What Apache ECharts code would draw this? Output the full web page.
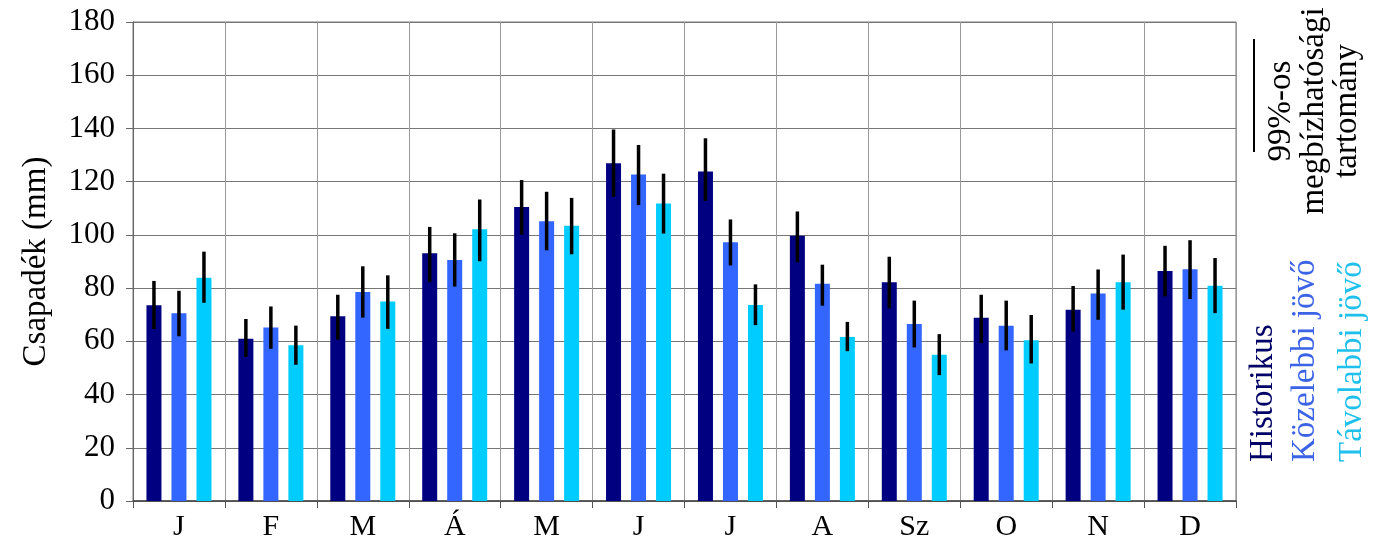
<!DOCTYPE html>
<html>
<head>
<meta charset="utf-8">
<script src="https://cdn.jsdelivr.net/npm/echarts@6/dist/echarts.min.js"></script>
<style>
  html, body { margin: 0; padding: 0; background: #fff; }
  #chart { width: 1380px; height: 547px; }
</style>
</head>
<body>
<div id="chart"></div>
<script>
// Monthly precipitation (mm): historical, near future, far future, with 99% confidence ranges
const months = ['J', 'F', 'M', 'Á', 'M', 'J', 'J', 'A', 'Sz', 'O', 'N', 'D'];
const yTicks = [0, 20, 40, 60, 80, 100, 120, 140, 160, 180];

const historikus    = [73.6, 61.0, 69.4, 93.1, 110.5, 126.9, 123.8, 99.7, 82.2, 68.9, 71.9, 86.4];
const historikusLo  = [64.6, 54.1, 60.6, 82.2, 100.1, 114.3, 112.7, 89.7, 72.4, 59.3, 63.7, 76.9];
const historikusHi  = [82.7, 68.4, 77.5, 103.0, 120.6, 139.6, 136.3, 108.8, 91.8, 77.5, 80.8, 95.9];

const kozelebbi     = [70.6, 65.2, 78.5, 90.6, 105.1, 122.7, 97.2, 81.6, 66.5, 65.9, 78.0, 87.1];
const kozelebbiLo   = [61.9, 57.2, 68.9, 80.6, 94.2, 111.2, 88.5, 73.4, 57.7, 56.6, 68.1, 75.9];
const kozelebbiHi   = [79.0, 73.1, 88.2, 100.6, 116.2, 133.8, 105.8, 88.8, 75.3, 75.3, 87.0, 98.0];

const tavolabbi     = [83.9, 58.5, 75.0, 102.1, 103.4, 111.8, 73.7, 61.6, 55.0, 60.4, 82.2, 80.9];
const tavolabbiLo   = [74.5, 51.2, 64.7, 90.1, 92.7, 100.5, 66.1, 56.3, 47.3, 51.7, 71.9, 70.6];
const tavolabbiHi   = [93.7, 65.9, 84.8, 113.3, 113.9, 123.0, 81.4, 67.3, 62.7, 69.9, 92.6, 91.3];

const seriesNames = ['Historikus', 'Közelebbi jövő', 'Távolabbi jövő'];
const colors = ['#000080', '#3366FF', '#00CCFF'];
const legendColors = ['#000066', '#3B63E6', '#1FC0EC'];

const FONT = "'Liberation Serif', 'Times New Roman', serif";
const BAR_W = 15;
const BAR_GAP_PX = 10;

const chart = echarts.init(document.getElementById('chart'));

function errorSeries(lo, hi, idx) {
  const offset = (idx - 1) * (BAR_W + BAR_GAP_PX);
  return {
    type: 'custom',
    silent: true,
    z: 5,
    data: lo.map((v, i) => [i, v, hi[i]]),
    encode: { x: 0, y: [1, 2] },
    renderItem: function (params, api) {
      const a = api.coord([api.value(0), api.value(1)]);
      const b = api.coord([api.value(0), api.value(2)]);
      return {
        type: 'line',
        shape: { x1: a[0] + offset, y1: a[1], x2: b[0] + offset, y2: b[1] },
        style: { stroke: '#000', lineWidth: 3.5 }
      };
    }
  };
}

const barData = [historikus, kozelebbi, tavolabbi];

const option = {
  animation: false,
  backgroundColor: '#fff',
  grid: {
    left: 133, right: 144, top: 22, bottom: 46,
    show: true, borderColor: '#777', borderWidth: 1
  },
  xAxis: {
    type: 'category',
    data: months,
    boundaryGap: true,
    axisLine: { show: true, lineStyle: { color: '#444', width: 1.5 } },
    axisTick: { show: true, inside: false, length: 7, lineStyle: { color: '#555' } },
    splitLine: { show: true, lineStyle: { color: '#999', width: 1 } },
    axisLabel: { color: '#000', fontFamily: FONT, fontSize: 30, margin: 11 }
  },
  yAxis: {
    type: 'value',
    min: yTicks[0],
    max: yTicks[yTicks.length - 1],
    interval: yTicks[1] - yTicks[0],
    name: 'Csapadék (mm)',
    nameLocation: 'middle',
    nameGap: 80,
    nameTextStyle: { color: '#000', fontFamily: FONT, fontSize: 33 },
    axisLine: { show: true, lineStyle: { color: '#666', width: 1 } },
    axisTick: { show: true, inside: false, length: 7, lineStyle: { color: '#666' } },
    splitLine: { show: true, lineStyle: { color: '#777', width: 1 } },
    axisLabel: { color: '#000', fontFamily: FONT, fontSize: 31, margin: 18 }
  },
  series: [
    ...barData.map((d, i) => ({
      name: seriesNames[i],
      type: 'bar',
      data: d,
      barWidth: BAR_W,
      barGap: (BAR_GAP_PX / BAR_W * 100) + '%',
      itemStyle: { color: colors[i] },
      z: 2
    })),
    errorSeries(historikusLo, historikusHi, 0),
    errorSeries(kozelebbiLo, kozelebbiHi, 1),
    errorSeries(tavolabbiLo, tavolabbiHi, 2)
  ],
  graphic: [
    // confidence-range key
    { type: 'line', shape: { x1: 1254, y1: 39, x2: 1254, y2: 152 }, style: { stroke: '#000', lineWidth: 2 } },
    ...['99%-os', 'megbízhatósági', 'tartomány'].map((t, i) => ({
      type: 'text', x: 1281 + i * 33, y: 111, rotation: Math.PI / 2,
      style: { text: t, fill: '#000', font: '33px ' + FONT, textAlign: 'center', textVerticalAlign: 'middle' }
    })),
    // series key
    ...seriesNames.map((t, i) => ({
      type: 'text', x: [1263, 1305, 1352][i], y: 462, rotation: Math.PI / 2,
      style: { text: t, fill: legendColors[i], font: '33px ' + FONT, textAlign: 'left', textVerticalAlign: 'middle' }
    }))
  ]
};

chart.setOption(option);
</script>
</body>
</html>
